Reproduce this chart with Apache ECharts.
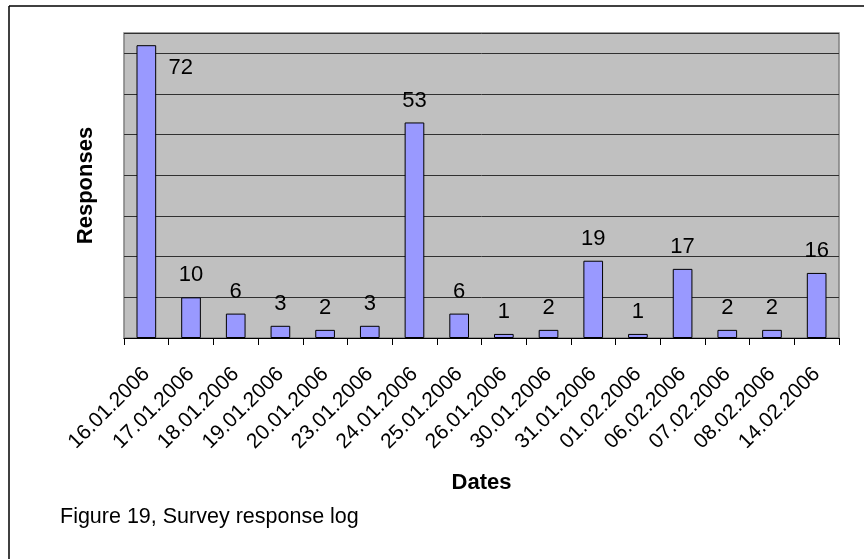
<!DOCTYPE html>
<html>
<head>
<meta charset="utf-8">
<script src="https://cdn.jsdelivr.net/npm/echarts@6/dist/echarts.min.js"></script>
<style>
  html, body { margin: 0; padding: 0; background: #fff; }
  #chart { width: 864px; height: 559px; }
</style>
</head>
<body>
<div id="chart"></div>
<script>
// Survey responses per day
const dates = ['16.01.2006', '17.01.2006', '18.01.2006', '19.01.2006', '20.01.2006',
  '23.01.2006', '24.01.2006', '25.01.2006', '26.01.2006', '30.01.2006',
  '31.01.2006', '01.02.2006', '06.02.2006', '07.02.2006', '08.02.2006', '14.02.2006'];
const responses = [72, 10, 6, 3, 2, 3, 53, 6, 1, 2, 19, 1, 17, 2, 2, 16];

const font = 'Liberation Sans, Arial, sans-serif';

const seriesData = responses.map((v, i) => {
  if (i === 0) {
    // tallest bar: label sits beside the bar rather than above it
    return { value: v, label: { position: [32, 12], align: 'left', verticalAlign: 'top' } };
  }
  return v;
});

const chart = echarts.init(document.getElementById('chart'), null, { renderer: 'canvas' });
chart.setOption({
  animation: false,
  backgroundColor: '#ffffff',
  grid: {
    left: 124, right: 25, top: 33, bottom: 221,
    show: true, backgroundColor: '#c0c0c0', borderColor: '#808080', borderWidth: 1.5
  },
  xAxis: {
    type: 'category',
    data: dates,
    name: 'Dates',
    nameLocation: 'middle',
    nameGap: 134,
    nameTextStyle: { fontFamily: font, fontSize: 22, fontWeight: 'bold', color: '#000' },
    axisLine: { lineStyle: { color: '#000', width: 1.2 } },
    axisTick: { show: true, alignWithLabel: false, length: 7, lineStyle: { color: '#000' } },
    axisLabel: { rotate: 45, fontFamily: font, fontSize: 21, color: '#000', margin: 33, interval: 0 },
    splitLine: { show: false }
  },
  yAxis: {
    type: 'value',
    min: 0, max: 75, interval: 10,
    name: 'Responses',
    nameLocation: 'middle',
    nameGap: 27,
    nameRotate: 90,
    nameTextStyle: { fontFamily: font, fontSize: 22, fontWeight: 'bold', color: '#000' },
    axisLine: { show: false },
    axisTick: { show: false },
    axisLabel: { show: false },
    splitLine: { lineStyle: { color: '#303030', width: 1 } }
  },
  series: [{
    type: 'bar',
    data: seriesData,
    barWidth: '44%',
    itemStyle: { color: '#9999ff', borderColor: '#000', borderWidth: 1 },
    label: {
      show: true, position: 'top', distance: 11,
      fontFamily: font, fontSize: 22, color: '#000'
    }
  }],
  graphic: [
    { type: 'line', shape: { x1: 9, y1: 6, x2: 864, y2: 6 }, style: { stroke: '#000', lineWidth: 1.5 } },
    { type: 'line', shape: { x1: 9, y1: 6, x2: 9, y2: 559 }, style: { stroke: '#000', lineWidth: 1.5 } },
    { type: 'text', left: 60, top: 506,
      style: { text: 'Figure 19, Survey response log', font: '21.5px ' + font, fill: '#000' } }
  ]
});
</script>
</body>
</html>
